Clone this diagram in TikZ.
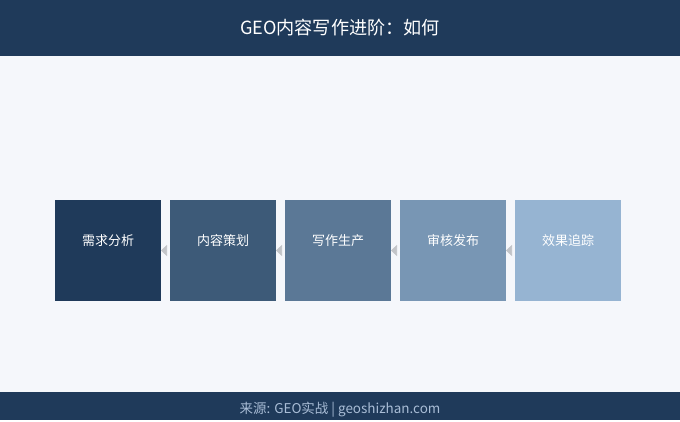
\documentclass[tikz,border=0pt]{standalone}
\usepackage{fontspec}
\setmainfont{Noto Sans CJK SC}
\usepackage{tikz}
\usetikzlibrary{positioning}
\usetikzlibrary{arrows.meta}
\definecolor{headbg}{HTML}{1F3A5A}
\definecolor{pagebg}{HTML}{F5F7FB}
\definecolor{stepA}{HTML}{1F3A5A}
\definecolor{stepB}{HTML}{3D5A78}
\definecolor{stepC}{HTML}{5B7896}
\definecolor{stepD}{HTML}{7896B4}
\definecolor{stepE}{HTML}{96B4D2}
\definecolor{tipgray}{HTML}{C2C4C8}
\definecolor{foottext}{HTML}{A9BDD6}
\tikzset{
every picture/.style={line width=0.8pt},
%%%%%%%%%%  Node styles
stepbox/.style={inner sep=0pt, outer sep=0pt, minimum width=79.5pt,
                minimum height=75.75pt, text=white},
steptext/.style={font=\fontsize{9.75pt}{11pt}\selectfont, text=white},
%%%%%%% Arrow between steps
backarrow/.style={-{Triangle[length=4.5pt,width=8.25pt,color=tipgray]},
                  draw=pagebg, line width=0.4pt},
}
\begin{document}
\begin{tikzpicture}[x=0.75pt,y=0.75pt]
\fill[pagebg] (0,0) rectangle (680,420);
\fill[headbg] (0,364) rectangle (680,420);
\fill[headbg] (0,0) rectangle (680,28);
\node[text=white,font=\fontsize{13.6pt}{15pt}\selectfont] (title) at (340,392) {GEO内容写作进阶：如何};
\node[text=foottext,font=\fontsize{10.1pt}{11pt}\selectfont] (source) at (340,10.5) {来源: GEO实战 | geoshizhan.com};
%% the five steps
\node[stepbox,fill=stepA] (s1) at (108,169.5) {};
\node[stepbox,fill=stepB,right=6.75pt of s1] (s2) {};
\node[stepbox,fill=stepC,right=6.75pt of s2] (s3) {};
\node[stepbox,fill=stepD,right=6.75pt of s3] (s4) {};
\node[stepbox,fill=stepE,right=6.75pt of s4] (s5) {};
\node[steptext] at ([yshift=7.5pt]s1.center) {需求分析};
\node[steptext] at ([yshift=7.5pt]s2.center) {内容策划};
\node[steptext] at ([yshift=7.5pt]s3.center) {写作生产};
\node[steptext] at ([yshift=7.5pt]s4.center) {审核发布};
\node[steptext] at ([yshift=7.5pt]s5.center) {效果追踪};
\draw[backarrow] (s2.west) -- (s1.east);
\draw[backarrow] (s3.west) -- (s2.east);
\draw[backarrow] (s4.west) -- (s3.east);
\draw[backarrow] (s5.west) -- (s4.east);
\end{tikzpicture}
\end{document}
